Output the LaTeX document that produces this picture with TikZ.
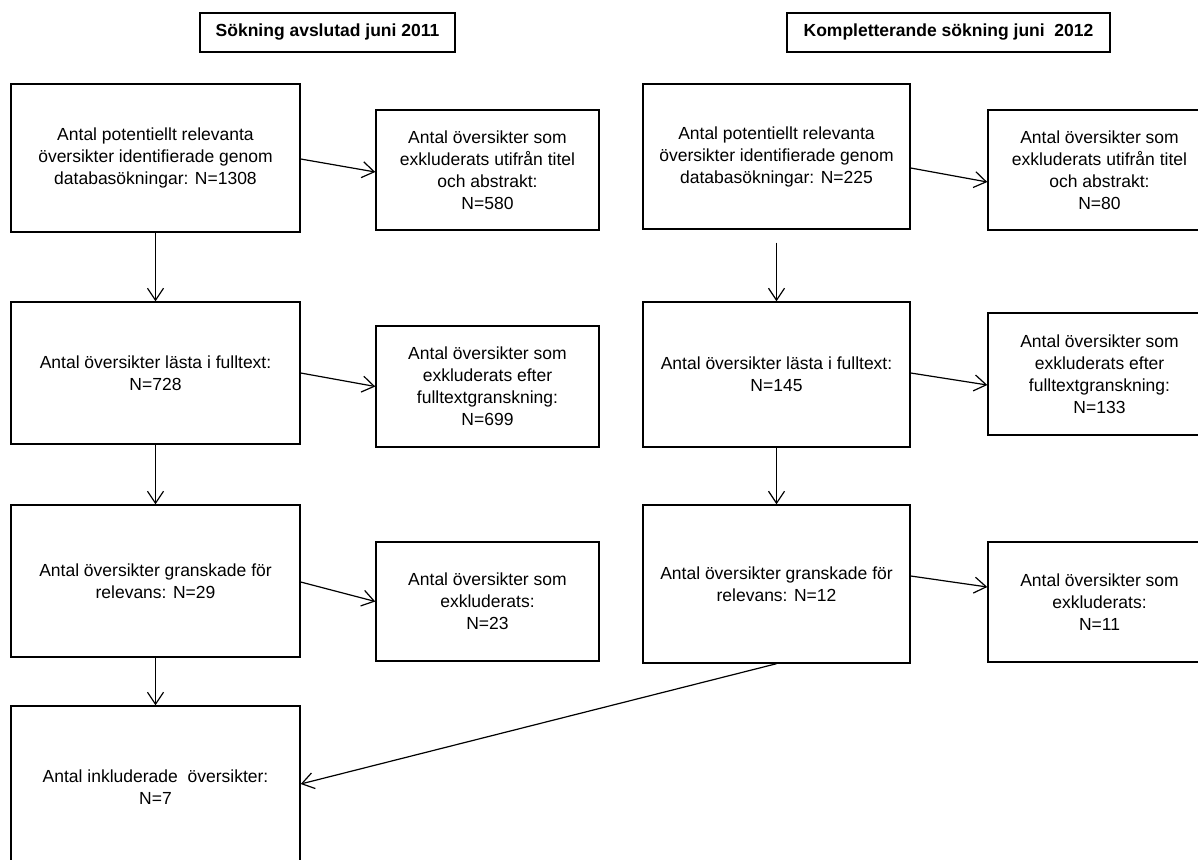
\documentclass[tikz,border=0pt]{standalone}
\usepackage{fontspec}
\setmainfont{Liberation Sans}
\usetikzlibrary{arrows.meta}
\begin{document}
\begin{tikzpicture}[x=1pt,y=-1pt,
  box/.style={draw=black,line width=1.4pt,inner sep=0pt,align=center,
    font=\fontsize{17.5}{22}\selectfont,text=black},
  ttl/.style={draw=black,line width=1.4pt,inner sep=0pt,align=center,
    font=\fontsize{17.5}{22}\selectfont\bfseries,text=black,minimum height=39pt},
  arr/.style={draw=black,line width=1.2pt,-{Straight Barb[length=12pt,width=16pt,line width=1.2pt]}}
]
\useasboundingbox (0,0) rectangle (1198,859);
% titles
\node[ttl,minimum width=255pt] (T1) at (327.5,32.5) {Sökning avslutad juni 2011};
\node[ttl,minimum width=323pt] (T2) at (948.5,32.5) {Kompletterande sökning juni\ \ 2012};
% left column
\node[box,minimum width=289pt,minimum height=148pt] (A1) at (155.5,158) {Antal potentiellt relevanta\\översikter identifierade genom\\databasökningar: N=1308};
\node[box,minimum width=223pt,minimum height=120pt] (B1) at (487.5,170) {Antal översikter som\\exkluderats utifrån titel\\och abstrakt:\\N=580};
\node[box,minimum width=289pt,minimum height=142pt] (A2) at (155.5,373) {Antal översikter lästa i fulltext:\\N=728};
\node[box,minimum width=223pt,minimum height=121pt] (B2) at (487.5,386.5) {Antal översikter som\\exkluderats efter\\fulltextgranskning:\\N=699};
\node[box,minimum width=289pt,minimum height=152pt] (A3) at (155.5,581) {Antal översikter granskade för\\relevans: N=29};
\node[box,minimum width=223pt,minimum height=119pt] (B3) at (487.5,601.5) {Antal översikter som\\exkluderats:\\N=23};
\node[box,minimum width=289pt,minimum height=163pt] (A4) at (155.5,787.5) {Antal inkluderade\ \ översikter:\\N=7};
% right column
\node[box,minimum width=267pt,minimum height=145pt] (C1) at (776.5,156.5) {Antal potentiellt relevanta\\översikter identifierade genom\\databasökningar: N=225};
\node[box,minimum width=223pt,minimum height=120pt] (D1) at (1099.5,170) {Antal översikter som\\exkluderats utifrån titel\\och abstrakt:\\N=80};
\node[box,minimum width=267pt,minimum height=145pt] (C2) at (776.5,374.5) {Antal översikter lästa i fulltext:\\N=145};
\node[box,minimum width=223pt,minimum height=122pt] (D2) at (1099.5,374) {Antal översikter som\\exkluderats efter\\fulltextgranskning:\\N=133};
\node[box,minimum width=267pt,minimum height=158pt] (C3) at (776.5,584) {Antal översikter granskade för\\relevans: N=12};
\node[box,minimum width=223pt,minimum height=120pt] (D3) at (1099.5,602) {Antal översikter som\\exkluderats:\\N=11};
% connectors
\draw[arr] ([yshift=-1pt]A1.east) -- ([yshift=-2pt]B1.west);
\draw[arr] (A1.south) -- (A2.north);
\draw[arr] (A2.east) -- (B2.west);
\draw[arr] ([yshift=-1pt]A3.east) -- (B3.west);
\draw[arr] (A2.south) -- (A3.north);
\draw[arr] (A3.south) -- (A4.north);
\draw[arr] ([yshift=-11.5pt]C1.east) -- ([yshift=-12pt]D1.west);
\draw[arr] ([yshift=-13pt]C1.south) -- (C2.north);
\draw[arr] ([yshift=1.5pt]C2.east) -- ([yshift=-11pt]D2.west);
\draw[arr] (C2.south) -- (C3.north);
\draw[arr] ([yshift=8pt]C3.east) -- ([yshift=15pt]D3.west);
\draw[arr] (C3.south) -- ([yshift=3.5pt]A4.east);
\end{tikzpicture}
\end{document}
